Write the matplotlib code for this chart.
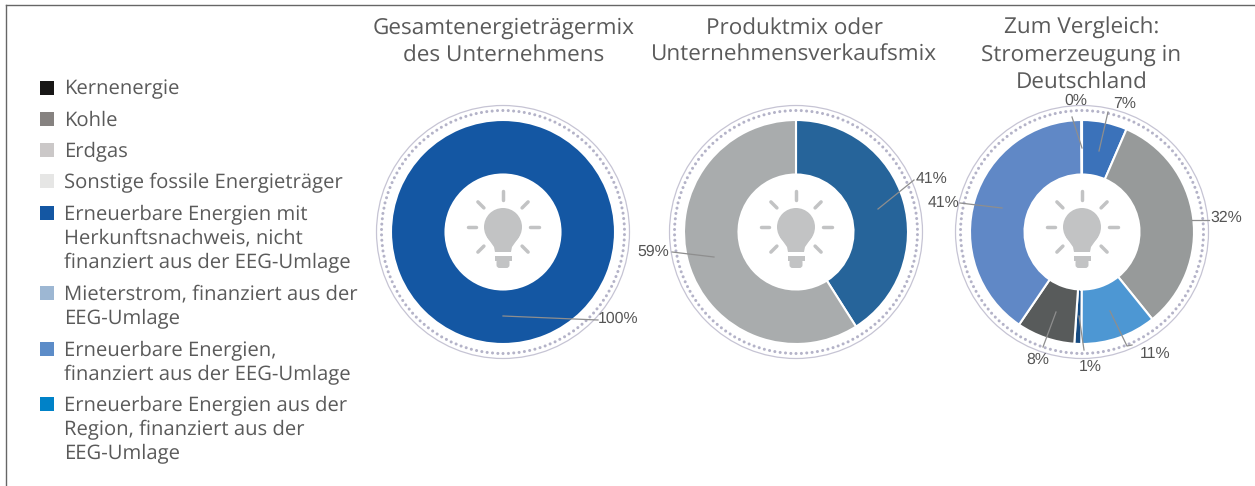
import matplotlib
matplotlib.use('Agg')
import numpy as np
import matplotlib.pyplot as plt
from matplotlib.patches import Circle, Rectangle, FancyBboxPatch

plt.rcParams['text.hinting'] = 'no_hinting'

W, H = 1255, 486

# data
legend_labels = ['Kernenergie', 'Kohle', 'Erdgas', 'Sonstige fossile Energieträger',
                 'Erneuerbare Energien mit\nHerkunftsnachweis, nicht\nfinanziert aus der EEG-Umlage',
                 'Mieterstrom, finanziert aus der\nEEG-Umlage',
                 'Erneuerbare Energien,\nfinanziert aus der EEG-Umlage',
                 'Erneuerbare Energien aus der\nRegion, finanziert aus der\nEEG-Umlage']
legend_colors = ['#181716', '#868280', '#CBC8C8', '#E6E6E5', '#1457A3', '#9DB7D3', '#5C8CC8', '#0082C8']

titles = ['Gesamtenergieträgermix\ndes Unternehmens',
          'Produktmix oder\nUnternehmensverkaufsmix',
          'Zum Vergleich:\nStromerzeugung in\nDeutschland']

values1 = [100]
colors1 = ['#1457A3']
labels1 = ['100%']

values2 = [41, 59]
colors2 = ['#26649A', '#A9ACAD']
labels2 = ['41%', '59%']

values3 = [6.5, 32.7, 10.9, 1.0, 8.4, 40.4, 0.1]
colors3 = ['#3B72BA', '#979A9A', '#4D97D3', '#154B82', '#585B5B', '#6088C6', '#6088C6']
labels3 = ['7%', '32%', '11%', '1%', '8%', '41%', '0%']

# layout, in pixels of the picture
centers_x = [503, 796, 1082]
title_x = [503.5, 794, 1081.5]
center_y = 232
legend_y = [88, 119, 150, 181, 213, 293, 349, 404]
leaders1 = [[(503, 316), (598, 320)]]
text1 = [(618, 319)]
leaders2 = [[(878, 209), (914, 180)], [(714, 257), (672, 252)]]
text2 = [(932, 179), (653, 252)]
leaders3 = [[(1099, 151), (1108, 112)], [(1192, 220), (1209, 220)],
            [(1110, 311), (1127, 346), (1132, 345)], [(1079, 316), (1084, 350)],
            [(1056, 312), (1043, 347)], [(1002, 208), (960, 203)],
            [(1082, 148), (1072, 117)]]
text3 = [(1125, 104), (1226, 218), (1155, 354), (1090, 367), (1038, 360), (944, 203), (1076, 101)]


def py(y):
    return H - y


def draw_bulb(ax, cx, cy):
    col = '#C2C3C4'
    y0 = cy - 5
    # Gluehbirne
    ax.add_patch(Circle((cx, py(y0)), 19, fc=col, ec='none', zorder=5))
    ax.fill([cx - 16, cx - 9, cx - 8, cx + 8, cx + 9, cx + 16],
            [py(y0 + 10), py(y0 + 20), py(y0 + 25), py(y0 + 25), py(y0 + 20), py(y0 + 10)],
            fc=col, ec='none', zorder=5)
    ax.add_patch(FancyBboxPatch((cx - 6.5, py(y0 + 41)), 13, 9, boxstyle='round,pad=0,rounding_size=3',
                                fc=col, ec='none', zorder=5))
    ax.add_patch(Rectangle((cx - 8.5, py(y0 + 34)), 17, 5, fc=col, ec='none', zorder=5))
    # Strahlen
    for a in np.deg2rad(np.arange(0, 360, 45)):
        if np.isclose(a, 3 * np.pi / 2):
            continue
        r0, r1 = 27, 35.5
        ax.plot([cx + r0 * np.cos(a), cx + r1 * np.cos(a)],
                [py(y0) + r0 * np.sin(a), py(y0) + r1 * np.sin(a)],
                color=col, lw=2.5, solid_capstyle='round', zorder=5)


def draw_donut(ax, cx, values, colors, labels, leaders, text_pos):
    ax.pie(values, colors=colors, center=(cx, py(center_y)), radius=112, startangle=90,
           counterclock=False, frame=True,
           wedgeprops=dict(width=54.5, edgecolor='white', linewidth=1.5))
    ax.add_patch(Circle((cx, py(center_y)), 126.5, fc='none', ec='#C6C4D4', lw=0.9))
    ax.add_patch(Circle((cx, py(center_y)), 121.5, fc='none', ec='#B4B3C8', lw=2.2,
                        linestyle=(0, (0.01, 1.75)), capstyle='round'))
    draw_bulb(ax, cx, center_y)
    for pts, lab, pos in zip(leaders, labels, text_pos):
        xs = [p[0] for p in pts]
        ys = [py(p[1]) for p in pts]
        ax.plot(xs, ys, color='#8E8E8E', lw=0.9, zorder=6)
        ax.text(pos[0], py(pos[1]), lab, ha='center', va='center', fontsize=11.4,
                family='Liberation Sans', color='#555555', zorder=7)


fig = plt.figure(figsize=(W / 100, H / 100), dpi=100)
ax = fig.add_axes([0, 0, 1, 1])

draw_donut(ax, centers_x[0], values1, colors1, labels1, leaders1, text1)
draw_donut(ax, centers_x[1], values2, colors2, labels2, leaders2, text2)
draw_donut(ax, centers_x[2], values3, colors3, labels3, leaders3, text3)

ax.set_xlim(0, W)
ax.set_ylim(0, H)
ax.set_aspect('equal')
ax.axis('off')

# Rahmen
ax.plot([6, 6], [0, py(5)], color='#666666', lw=1.0)
ax.plot([6, W], [py(5), py(5)], color='#666666', lw=1.0)

# Titel
for cx, t in zip(title_x, titles):
    ax.text(cx, py(17), t, ha='center', va='top', fontsize=16.2, family='Open Sans',
            color='#5A5A5A', linespacing=1.29)

# Legende
for y, lab, c in zip(legend_y, legend_labels, legend_colors):
    ax.add_patch(Rectangle((40, py(y + 7)), 14, 14, fc=c, ec='none'))
    ax.text(64, py(y - 8.5), lab, ha='left', va='top', fontsize=14.6, family='Open Sans',
            color='#5A5A5A', linespacing=1.27)

fig.savefig('out.png', dpi=100)
